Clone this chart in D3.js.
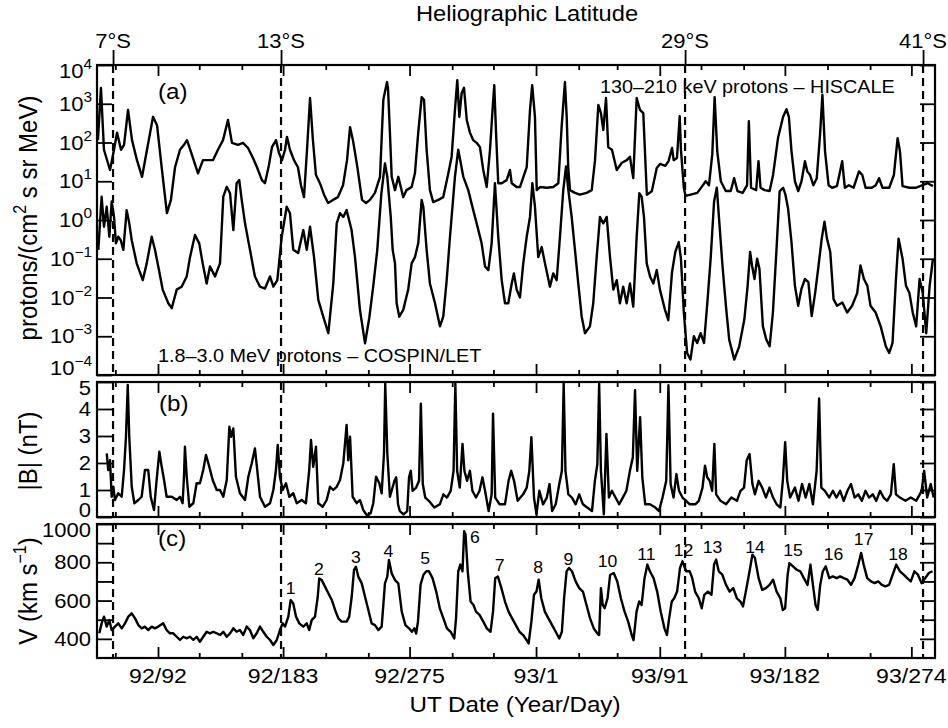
<!DOCTYPE html>
<html>
<head>
<meta charset="utf-8">
<script src="https://cdn.jsdelivr.net/npm/d3@7"></script>
<style>
  body { margin: 0; background: #fff; }
  text { font-family: "Liberation Sans", Arial, Helvetica, sans-serif; fill: #000; }
</style>
</head>
<body>
<svg id="chart" width="948" height="728"></svg>
<script>
// Time axis: continuous day number counted from 1992 day 0 (1993/1 = day 367).
// 130-210 keV protons (HISCALE), [day, flux]
const hiscale = [[48.3,115],[50.5,2570],[52.7,65],[57.1,19.5],[60,65],[62.2,180],[65.1,65],[67.3,87],[70.2,690],[73.1,115],[76.7,35],[80.4,13],[84,65],[88.4,460],[91.3,280],[94.9,19.5],[98.5,1.5],[101.4,3.3],[104.4,23],[108,65],[110.9,87],[113.1,115],[116.7,48],[121.1,16],[124.7,35],[128.4,35],[132,35],[135.6,65],[139.3,115],[142.9,380],[145.8,98],[150.2,87],[153.8,98],[157.5,72],[161.1,40],[164,23],[167.6,10.7],[169.8,8.9],[172.7,26],[174.9,76],[177.8,115],[180,54],[182.2,35],[184.4,65],[185.8,140],[188,65],[190.9,35],[193.8,23],[196,7.9],[198.2,3.9],[200.4,65],[202.6,1410],[204.7,115],[206.9,14.5],[209.8,8.9],[212.8,4.5],[215.7,2.75],[219.3,3.3],[222.9,3.9],[226.6,7.9],[229.5,35],[231.7,250],[233.8,115],[236.8,26],[240.4,3.3],[243.3,2.75],[246.2,3.3],[249.8,5.0],[253.5,13],[255.9,1260],[258.6,3630],[259.3,2570],[260.7,180],[262,13],[264.4,5.9],[266.8,13],[270.4,3.9],[272.8,5.9],[276.5,7.1],[278.9,16],[281.3,180],[283.8,1480],[285.5,1260],[287.4,65],[289.8,5.9],[292.2,2.9],[295.9,3.3],[299.5,3.9],[303.2,16],[305.6,43],[308,690],[309.7,4070],[311.2,460],[312.9,1900],[314.6,2570],[316.6,380],[318.9,180],[321.3,115],[323.8,98],[326.2,76],[328.6,19.5],[331.1,7.1],[333.5,65],[335.5,830],[336.6,3020],[337.9,180],[339.5,8.9],[342,8.9],[345.6,10.7],[348,19.5],[349.3,8.9],[352.9,7.1],[355.3,7.1],[360.2,23],[362.6,690],[364.2,3020],[366.2,460],[367.5,5.9],[369.9,7.1],[374.8,6.8],[379.5,7.1],[383.2,8.9],[385.6,250],[388,3630],[389.3,460],[390.4,23],[391.7,5.9],[395.3,5.0],[398.9,4.5],[403.8,5.0],[407.5,5.9],[409.9,35],[412.3,930],[414.2,575],[415.9,210],[417.9,1410],[419.5,76],[422.2,65],[425.7,19.5],[429.4,30],[433,35],[435.3,43],[437.7,12],[440.2,1410],[442.6,690],[445,575],[447.6,4.5],[451.2,5.5],[454.8,22],[457.2,28],[461,25],[463.4,33],[465.9,72],[467.1,35],[469.5,40],[471.5,480],[472.4,65],[474.5,6.8],[475.7,4.2],[479.4,4.5],[484.3,5.0],[487.9,7.5],[490.4,10],[492.8,7.9],[495.2,50],[496.9,1480],[498.8,60],[501.4,10],[505,5.6],[508.6,5.6],[511.1,12],[513.5,5.6],[517.3,5.0],[520.5,7.9],[521.8,355],[523.4,6.8],[527.1,5.9],[528.8,33],[530.3,6.8],[533.3,5.9],[536.9,5.6],[539.4,14.5],[543,130],[546.7,460],[549.2,720],[550.9,460],[552.8,60],[555.3,10],[557.7,5.6],[560.1,10],[562.6,33],[564.3,18],[566.3,14.5],[568.7,7.9],[571.2,12],[573.6,165],[575.3,1700],[577.2,60],[579.8,7.9],[582.3,6.8],[585.9,7.5],[589.7,33],[591.6,6.8],[594.6,7.9],[598,6.8],[601.9,18],[604.3,14.5],[606.7,6.8],[611.3,6.8],[614.1,7.9],[616.5,12],[619,6.8],[623.9,6.8],[627.3,14.5],[630,130],[631.7,60],[633.6,7.5],[638.6,6.8],[643.5,6.8],[648.3,7.9],[651.9,8.9],[655.7,7.5]];

// 1.8-3.0 MeV protons (COSPIN/LET), [day, flux]
const cospin = [[48.6,0.17],[51,4.0],[52.7,0.67],[54.7,2.2],[56.6,0.37],[58.3,3.0],[60,1.2],[61.4,0.25],[63.1,0.37],[64.9,0.30],[66.8,0.17],[69.2,1.8],[71.1,0.82],[72.9,0.30],[76.5,0.076],[80.9,0.028],[83.8,0.076],[87.4,0.37],[89.8,0.17],[92.2,0.063],[95.4,0.016],[99.5,0.0071],[102,0.0053],[105.6,0.016],[109.2,0.019],[112.9,0.035],[115.3,0.11],[118.9,0.41],[122,0.25],[124.5,0.076],[127.4,0.023],[129.8,0.063],[133.5,0.035],[137.1,0.076],[139.5,4.0],[142,7.2],[144.4,4.9],[146.8,0.55],[149.2,8.9],[151.1,10.7],[152.9,3.3],[155.3,0.82],[158.9,0.17],[162.5,0.035],[166.2,0.019],[169.8,0.017],[173.5,0.035],[175.9,0.019],[178.8,0.028],[182,0.37],[185.6,2.2],[188,1.5],[190.4,0.17],[194,0.14],[197.7,0.55],[200.2,0.17],[202.6,0.67],[205.5,0.11],[208.6,0.0087],[212.2,0.0032],[215.9,0.0012],[219.5,0.023],[222,0.82],[224.4,1.5],[226.8,1.2],[229.2,1.8],[232.8,0.55],[235.3,0.11],[238.9,0.0048],[242.6,0.00066],[245.7,0.003],[248.6,0.02],[251.5,0.17],[254.5,4.9],[257.1,29],[258.8,13],[261.3,1.2],[262.7,0.17],[264.4,0.076],[265.6,0.0071],[267.5,0.0032],[270.4,0.0048],[274,0.016],[276.5,0.076],[278.9,0.11],[281.3,0.25],[283.8,3.3],[285,2.2],[287.4,0.17],[289.8,0.023],[293.5,0.0071],[297.1,0.0018],[299.5,0.0032],[302,0.028],[304.4,0.37],[308,13],[310.4,65],[314.1,13],[317.7,5.9],[321.3,1.8],[323.8,0.82],[327.4,0.25],[329.9,0.063],[332.3,0.051],[334.7,0.25],[337.1,8.9],[339.5,0.37],[342,0.028],[344.4,0.0071],[346.8,0.0071],[349.3,0.023],[350.9,0.042],[352.9,0.016],[355.3,0.010],[357.7,0.076],[360.2,0.37],[362.6,1.2],[364.3,8.9],[366.2,2.2],[368.6,0.11],[371.1,0.20],[373.5,0.076],[377.1,0.019],[379.5,0.042],[382,0.028],[384.4,0.37],[386.8,5.9],[388.8,24],[390.5,5.9],[392.9,1.2],[395.3,0.17],[397.7,0.023],[400.2,0.0032],[402.6,0.0012],[406.2,0.0018],[408.6,0.0071],[411.1,0.11],[413.5,1.2],[415.9,0.82],[418.4,1.2],[420.8,0.11],[423.2,0.016],[425.7,0.028],[428,0.0071],[430.4,0.019],[432.9,0.0071],[435.3,0.023],[437.7,0.0058],[440.2,0.37],[442.1,4.9],[443.8,4.0],[445.5,1.2],[447.5,0.076],[449.9,0.035],[452.3,0.023],[454.8,0.051],[457.1,0.016],[460.8,0.0048],[463.2,0.0026],[465.9,0.045],[468.3,0.15],[470.8,0.27],[472.4,0.10],[474.5,0.0041],[476.9,0.00037],[479.3,0.00025],[481.8,0.0010],[484.2,0.00067],[486.7,0.0012],[489.2,0.00067],[491.6,0.0074],[494,0.10],[496.5,3.0],[498.5,6.8],[500.1,1.1],[502.6,0.067],[505.1,0.0061],[507.5,0.00082],[511.2,0.00025],[514.8,0.00055],[518.5,0.0027],[520.9,0.020],[522.7,0.15],[524.1,0.067],[525.9,0.030],[527.8,0.10],[529.5,0.055],[532,0.0018],[534.5,0.00082],[536.9,0.00055],[539.3,0.0041],[541.8,0.15],[544.2,5.5],[546.7,6.8],[548.4,4.5],[550.3,2.0],[552.8,0.27],[555.3,0.020],[557.7,0.0061],[560.1,0.017],[562.6,0.030],[565.1,0.025],[567.5,0.0033],[570,0.013],[572.5,0.067],[574.8,0.33],[576.8,0.91],[578.6,0.33],[581,0.15],[583.4,0.0091],[585.9,0.0061],[589.8,0.0074],[593.3,0.0041],[596.9,0.0061],[600.6,0.013],[603,0.067],[605.5,0.030],[608,0.020],[610.3,0.0061],[614,0.0041],[617.7,0.0018],[621.4,0.00055],[623.9,0.00037],[626.3,0.00067],[628.8,0.030],[630.7,0.33],[633.6,0.10],[636.1,0.020],[638.6,0.013],[641,0.0041],[643.5,0.0018],[646,0.030],[648.3,0.013],[650.8,0.0012],[653.3,0.020],[655.7,0.10]];

// Magnetic field magnitude |B| (nT), [day, nT]
const fieldB = [[54.7,2.36],[55.8,1.74],[57.1,2.1],[58.3,0.75],[59.5,1.12],[60.7,0.63],[63.1,0.88],[65.6,0.75],[67.3,1.74],[68.7,2.97],[70,4.89],[71.1,2.97],[72.9,1.12],[74.8,0.51],[77.7,0.63],[80.1,0.75],[82.5,1.74],[84.9,1.74],[86.7,0.75],[89.1,0.26],[91,1.37],[93,2.42],[94.7,1.86],[96.4,1.37],[98.3,0.75],[102,0.75],[105.6,0.63],[108,0.75],[109.9,0.51],[110.9,1.49],[111.6,2.6],[112.9,1.49],[114.8,0.38],[117.7,0.51],[120.1,1.25],[122.5,1.25],[124.9,1.74],[126.9,2.3],[129.3,1.86],[131.8,1.37],[134.7,1.0],[137.1,1.0],[139.5,0.75],[142,1.37],[143.9,3.34],[145.1,2.97],[146.8,3.28],[148.7,1.49],[151.6,0.88],[155.3,0.63],[157.7,1.49],[160.2,1.99],[162.5,2.54],[164.2,1.74],[166.2,0.75],[169.8,0.38],[173.5,0.51],[175.9,1.0],[177.8,1.74],[179.1,2.67],[180.7,1.49],[182.7,1.0],[185.1,1.25],[187.5,0.75],[190.4,0.88],[192.9,0.51],[196.5,0.63],[199.6,0.51],[202,1.74],[203.3,2.85],[204.9,1.86],[206.9,2.6],[208.6,0.51],[211.8,0.38],[214.7,0.63],[217.1,1.12],[219.5,1.0],[222,1.12],[224.4,1.37],[226.8,1.99],[229.2,3.41],[230.4,2.1],[231.7,2.97],[233.6,0.75],[236.5,0.51],[238.9,0.63],[241.3,0.26],[243.8,0.07],[246.7,0.14],[248.6,0.51],[250.6,1.49],[253,1.25],[254.7,0.88],[256.4,2.36],[257.3,4.95],[258.8,2.36],[260.7,0.75],[264,1.34],[265.3,1.47],[266.6,0.47],[267.9,0.22],[270.6,0.1],[273.3,0.22],[274.6,1.47],[275.9,1.71],[277.2,0.97],[279.8,1.09],[281.9,1.34],[283.2,4.2],[284.6,1.22],[286.4,0.72],[289,0.6],[293,0.35],[297,0.47],[299.6,0.84],[302.2,0.72],[304.9,0.97],[307,1.71],[308.3,4.94],[309.6,1.71],[311.5,1.09],[313.5,2.71],[314.9,1.71],[316.8,1.34],[318.9,1.71],[320.7,0.97],[323.3,0.72],[325.9,0.97],[328,1.47],[329.9,0.97],[332.5,0.22],[334.7,0.84],[335.7,3.83],[337.3,0.72],[340.5,0.47],[344.4,0.47],[347,1.34],[348.9,1.71],[351,1.34],[353.6,0.6],[357.6,0.84],[360.2,1.09],[362.1,1.71],[363.6,2.96],[365.5,0.72],[367.3,0.1],[369.4,0.97],[372.1,0.47],[374.8,0.72],[376.8,1.22],[378.7,0.22],[381.3,0.47],[383.9,1.22],[385.8,1.71],[387.1,4.94],[388.4,1.71],[390.5,0.84],[393.1,0.72],[395.8,0.47],[398.4,0.84],[401.1,0.47],[404.2,0.35],[407.7,0.22],[409.8,1.34],[411.6,1.96],[412.9,4.94],[414.2,1.71],[416.3,0.1],[418.2,3.08],[420,0.72],[422.2,0.97],[424.8,0.72],[427.4,0.47],[430.1,0.72],[432.7,0.97],[435.3,1.71],[437.4,2.21],[439,4.7],[440.6,1.71],[442.7,3.7],[444.3,1.47],[446.4,0.47],[449.8,0.47],[453.8,0.35],[456.4,0.22],[459,0.72],[461.7,1.34],[463.3,4.88],[464.9,1.22],[467,0.72],[469.1,1.59],[471,0.97],[473.5,0.72],[476.2,0.6],[478.8,0.47],[482.8,0.47],[485.4,0.6],[488.1,1.09],[489.9,1.9],[491.5,1.47],[493.3,1.34],[495.1,0.97],[496.7,2.71],[498,0.84],[501.2,0.6],[505.2,0.47],[509.1,0.72],[513.1,0.6],[515.7,0.97],[518.3,1.09],[520.2,2.09],[522.3,2.33],[524.4,1.22],[526.2,0.84],[528.9,1.34],[531.5,1.09],[534.2,0.72],[536.8,1.09],[539.4,0.72],[542,0.47],[544.7,0.35],[546.5,1.34],[548.2,2.77],[549.7,1.34],[551.8,0.72],[555.3,1.09],[557.9,0.6],[560.5,1.22],[563.1,0.72],[565.8,1.22],[568.4,0.47],[571.1,1.71],[572.9,4.39],[574.5,1.09],[577.1,0.97],[580.3,0.72],[582.9,0.97],[585.6,0.72],[588.2,0.97],[590.8,0.6],[593.5,0.97],[596.1,1.22],[598.7,0.72],[601.4,0.84],[604,0.6],[606.6,0.97],[609.2,0.72],[611.9,0.84],[614.5,0.6],[617.2,0.97],[619.8,0.72],[622.4,0.6],[625.1,0.84],[627.2,1.96],[628.8,0.84],[631.7,0.72],[635.7,0.6],[639.6,0.72],[643.5,0.6],[647.5,0.97],[649.3,1.71],[651.5,0.72],[654.1,1.22],[656.2,0.72]];

// Solar wind speed V (km/s), [day, km/s]
const windV = [[49.3,429],[51,481],[52.7,516],[54.7,464],[56.6,498],[58.3,446],[60.7,464],[63.1,481],[65.6,455],[68,481],[70.4,516],[72.9,533],[75.3,507],[77.7,472],[80.1,455],[82.5,464],[84.9,446],[87.4,464],[89.8,455],[92.2,464],[95.8,481],[98.3,446],[100.7,429],[103.1,429],[105.6,411],[108,394],[110.4,411],[112.9,403],[115.3,411],[117.7,394],[120.1,411],[122.5,385],[124.9,411],[127.4,437],[129.8,429],[132.2,437],[134.7,429],[137.1,420],[139.5,437],[142,411],[144.4,429],[146.8,455],[149.2,437],[151.6,446],[154,420],[156.5,464],[158.9,446],[161.3,403],[163.8,429],[166.2,464],[168.6,437],[171.1,411],[173.5,394],[175.9,368],[178.4,394],[180.7,446],[182.7,481],[184.4,464],[186.8,516],[188.5,603],[190.4,585],[192.4,516],[194.8,481],[197.7,464],[200.2,481],[202,446],[203.8,498],[206.2,516],[208.2,620],[209.3,716],[211.1,707],[213.5,673],[215.9,638],[218.4,603],[220.8,551],[223.2,507],[225.6,490],[229.2,490],[231.1,516],[232.9,620],[234.6,760],[236,777],[237.7,725],[240.2,690],[242.6,620],[245,551],[247.4,481],[249.8,472],[252.3,446],[254.7,464],[257.1,690],[258.8,725],[260,812],[262,742],[264.4,707],[266.8,690],[269.3,542],[272,472],[274.6,455],[276.7,437],[278.5,455],[279.8,428],[281.1,490],[283,683],[285.1,735],[287.2,753],[289.1,753],[291.7,717],[294.4,647],[297,559],[299.6,507],[302.2,455],[304.9,437],[307.5,402],[308.8,507],[310.4,753],[311.9,788],[313.5,753],[314.7,963],[315.7,945],[317.3,753],[319.4,595],[321.5,577],[323.3,542],[325.9,525],[328.6,490],[331.2,455],[333.9,437],[335.7,542],[337.3,717],[339.2,726],[341.8,665],[344.4,595],[347,542],[349.6,507],[352.3,472],[354.9,437],[357.6,420],[360.2,393],[361.6,376],[363.6,490],[365.5,630],[367.3,647],[368.9,709],[370.8,612],[373.4,542],[376,507],[378.7,472],[381.3,437],[383.9,402],[385.8,437],[387.4,612],[389.2,753],[391,770],[393.1,753],[395.8,700],[398.4,665],[401.1,647],[403.7,577],[406.3,507],[409,455],[411.6,428],[412.9,420],[414.2,665],[415.5,577],[416.9,560],[419,612],[420.9,735],[423.5,744],[426.1,700],[428.7,612],[431.4,542],[434,490],[436.6,420],[437.9,393],[440.1,542],[442,595],[443.8,577],[445.9,717],[448,788],[449.8,753],[452.5,717],[455.1,647],[457.7,542],[460.4,455],[462.2,420],[463.8,507],[465.7,595],[467.5,612],[469.6,647],[471.7,770],[473.5,805],[476.2,753],[478.8,753],[480.6,717],[482.7,647],[485.4,612],[487.5,560],[489.4,630],[492,647],[494.6,630],[496.5,788],[498,814],[499.9,753],[502.5,735],[505.2,682],[507.8,647],[510.5,665],[513.1,612],[515.7,595],[517.5,569],[519.6,647],[522.3,753],[524.4,840],[526.2,823],[528.9,717],[531.5,656],[534.2,665],[536.8,682],[539.4,709],[542,647],[544.7,612],[546.5,551],[548.2,560],[550,735],[551.3,796],[553.9,779],[556.6,761],[559.2,753],[561.8,717],[564.5,682],[566.6,788],[568.4,682],[570.3,577],[571.9,551],[573.7,682],[575.6,753],[577.7,779],[580.3,717],[582.9,726],[585.6,717],[588.2,726],[590.8,717],[593.5,709],[596.1,682],[598.7,717],[601.4,788],[603.5,849],[605.3,788],[607.9,717],[610.6,700],[613.3,691],[615.9,700],[618.5,682],[621.1,674],[623.8,682],[626.4,735],[629,788],[631.7,753],[634.4,735],[637,717],[639.6,700],[642.2,753],[644.8,735],[647.5,691],[650.1,717],[652.7,744],[655.4,753]];

// Numbered high-speed streams: label, day, speed at the label centre
const streamLabels = [["1",188.5,666],["2",209.1,765],["3",236,828],["4",259.5,859],["5",286.4,822],["6",322.6,929],["7",340.5,786],["8",368.6,775],["9",390.5,817],["10",419,807],["11",447.2,841],["12",474.3,864],["13",495.4,880],["14",526.3,880],["15",553.9,864],["16",583.4,843],["17",605.3,919],["18",630.3,843]];

// Heliographic latitude markers
const latitudeDays = [59.3, 181.5, 475.4, 648.5];
const latitudeLabels = ["7°S", "13°S", "29°S", "41°S"];

// Date axis: first day of each quarter (labelled) and of each month
const quarterDays = [92, 183, 275, 367, 457, 548, 640];
const quarterLabels = ["92/92", "92/183", "92/275", "93/1", "93/91", "93/182", "93/274"];
const monthDays = [61, 122, 153, 214, 245, 306, 336, 398, 426, 487, 518, 579, 610];

// Vertical axes
const fluxDecades = [-4, -3, -2, -1, 0, 1, 2, 3, 4];
const fieldTicks = [0, 1, 2, 3, 4, 5];
const speedTicks = [400, 600, 800, 1000];
const speedMinorTicks = [500, 700, 900];

const W = 948, H = 728;
const LEFT = 97, RIGHT = 935;
const svg = d3.select("#chart");
svg.append("rect").attr("width", W).attr("height", H).attr("fill", "#fff");

const x = d3.scaleLinear().domain([47.63, 657.2]).range([LEFT, RIGHT]);

const panels = [
  { key: "a", top: 65, bottom: 375, y: d3.scaleLog().domain([1e-4, 1e4]).range([375, 65]) },
  { key: "b", top: 382, bottom: 517, y: d3.scaleLinear().domain([0, 5]).range([517, 382]) },
  { key: "c", top: 524, bottom: 658, y: d3.scaleLinear().domain([300, 1000]).range([658, 524]) }
];
const [pa, pb, pc] = panels;

const SX = 1.1; // horizontal stretch applied to the lettering

function hText(g, px, py, str, size, anchor) {
  return g.append("text")
    .attr("transform", `translate(${px},${py}) scale(${SX},1)`)
    .attr("text-anchor", anchor || "start")
    .attr("font-size", size)
    .text(str);
}

function styleAxis(g) {
  g.select(".domain").remove();
  g.selectAll(".tick line").attr("stroke", "#000").attr("stroke-width", 1.8);
}

// clip paths for each panel
const defs = svg.append("defs");
panels.forEach(p => {
  defs.append("clipPath").attr("id", "clip-" + p.key)
    .append("rect").attr("x", LEFT).attr("y", p.top)
    .attr("width", RIGHT - LEFT).attr("height", p.bottom - p.top);
});

// data lines
function drawSeries(p, data) {
  const line = d3.line().x(d => x(d[0])).y(d => p.y(d[1]));
  svg.append("path")
    .datum(data)
    .attr("clip-path", `url(#clip-${p.key})`)
    .attr("fill", "none")
    .attr("stroke", "#000")
    .attr("stroke-width", 2.4)
    .attr("stroke-linejoin", "round")
    .attr("d", line);
}
drawSeries(pa, hiscale);
drawSeries(pa, cospin);
drawSeries(pb, fieldB);
drawSeries(pc, windV);

// dashed latitude markers in every panel
panels.forEach(p => {
  svg.append("g").selectAll("line").data(latitudeDays).join("line")
    .attr("x1", d => x(d)).attr("x2", d => x(d))
    .attr("y1", p.top).attr("y2", p.bottom)
    .attr("stroke", "#000").attr("stroke-width", 2.2)
    .attr("stroke-dasharray", "8,5");
});

// frames and date ticks
panels.forEach(p => {
  svg.append("rect").attr("x", LEFT).attr("y", p.top)
    .attr("width", RIGHT - LEFT).attr("height", p.bottom - p.top)
    .attr("fill", "none").attr("stroke", "#000").attr("stroke-width", 2.2);

  svg.append("g").attr("transform", `translate(0,${p.bottom})`)
    .call(d3.axisBottom(x).tickValues(quarterDays).tickSize(-11).tickSizeOuter(0).tickFormat(""))
    .call(styleAxis);
  svg.append("g").attr("transform", `translate(0,${p.bottom})`)
    .call(d3.axisBottom(x).tickValues(monthDays).tickSize(-5).tickSizeOuter(0).tickFormat(""))
    .call(styleAxis);
  svg.append("g").attr("transform", `translate(0,${p.top})`)
    .call(d3.axisTop(x).tickValues(quarterDays).tickSize(-11).tickSizeOuter(0).tickFormat(""))
    .call(styleAxis);
  svg.append("g").attr("transform", `translate(0,${p.top})`)
    .call(d3.axisTop(x).tickValues(monthDays).tickSize(-5).tickSizeOuter(0).tickFormat(""))
    .call(styleAxis);
});

// vertical ticks, left and right, pointing inward
function yTicks(p, values, len) {
  svg.append("g").attr("transform", `translate(${LEFT},0)`)
    .call(d3.axisLeft(p.y).tickValues(values).tickSize(-len).tickSizeOuter(0).tickFormat(""))
    .call(styleAxis);
  svg.append("g").attr("transform", `translate(${RIGHT},0)`)
    .call(d3.axisRight(p.y).tickValues(values).tickSize(-len).tickSizeOuter(0).tickFormat(""))
    .call(styleAxis);
}
yTicks(pa, fluxDecades.map(k => Math.pow(10, k)), 15);
yTicks(pb, fieldTicks, 15);
yTicks(pc, speedTicks, 15);
yTicks(pc, speedMinorTicks, 15);

// vertical tick labels (end labels kept inside the frame)
const TICK_FS = 20;
function labelY(p, v) {
  const c = Math.max(p.top + 6, Math.min(p.bottom - 7, p.y(v)));
  return c + 0.358 * TICK_FS;
}
const gLab = svg.append("g");
fluxDecades.forEach(k => {
  const t = gLab.append("text")
    .attr("transform", `translate(92,${labelY(pa, Math.pow(10, k))}) scale(${SX},1)`)
    .attr("text-anchor", "end").attr("font-size", TICK_FS);
  t.append("tspan").text("10");
  t.append("tspan").attr("font-size", 14).attr("dy", -9)
    .text(k < 0 ? "\u2212" + Math.abs(k) : String(k));
});
fieldTicks.forEach(v => hText(gLab, 91, labelY(pb, v), String(v), TICK_FS, "end"));
speedTicks.forEach(v => hText(gLab, 91, labelY(pc, v), String(v), TICK_FS, "end"));

// date labels
quarterDays.forEach((d, i) => hText(gLab, x(d), 683, quarterLabels[i], 21, "middle"));

// heliographic latitude axis on top
svg.append("g").attr("transform", `translate(0,${pa.top})`)
  .call(d3.axisTop(x).tickValues(latitudeDays).tickSize(15).tickSizeOuter(0).tickFormat(""))
  .call(styleAxis);
latitudeDays.forEach((d, i) => hText(gLab, x(d), 48, latitudeLabels[i], TICK_FS, "middle"));
hText(gLab, 527, 21, "Heliographic Latitude", 21.5, "middle");

// x axis title
hText(gLab, 515, 712, "UT Date (Year/Day)", 22, "middle");

// y axis titles
function vTitle(cx, cy, parts) {
  const t = svg.append("text")
    .attr("transform", `translate(${cx},${cy}) rotate(-90) scale(1,${SX})`)
    .attr("text-anchor", "middle").attr("font-size", 24);
  parts.forEach(([s, sup]) => {
    if (sup) {
      t.append("tspan").attr("font-size", 16).attr("dy", -10).text(s);
    } else {
      const ts = t.append("tspan").text(s);
      if (t.selectAll("tspan").size() > 1) ts.attr("dy", 10);
    }
  });
}
vTitle(37, 218, [["protons/(cm"], ["2", true], [" s sr MeV)"]]);
vTitle(37, 451, [["|B| (nT)"]]);
vTitle(37, 591, [["V (km s"], ["\u22121", true], [")"]]);

// panel tags
hText(gLab, 158, 98.5, "(a)", 22);
hText(gLab, 159, 410.5, "(b)", 22);
hText(gLab, 158, 546, "(c)", 22);

// instrument annotations
hText(gLab, 600, 93, "130\u2013210 keV protons \u2013 HISCALE", 18);
hText(gLab, 158, 361.5, "1.8\u20133.0 MeV protons \u2013 COSPIN/LET", 18);

// stream numbers
streamLabels.forEach(([s, d, v]) => hText(gLab, x(d), pc.y(v) + 5.7, s, 16, "middle"));
</script>
</body>
</html>
